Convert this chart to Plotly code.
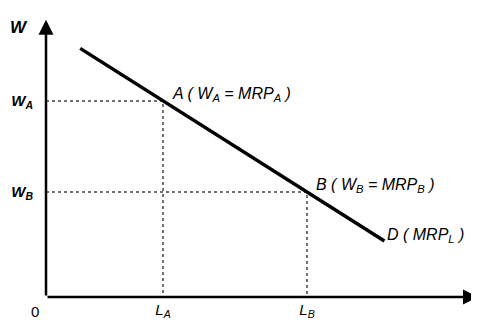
import plotly.graph_objects as go

# demand curve D (MRP_L)
demand_L = [0.95, 3.25, 7.25, 9.4]
demand_W = [8.88, 7.0, 3.75, 2.0]

# the two marked points
point_names = ["A", "B"]
point_L = [3.25, 7.25]
point_W = [7.0, 3.75]

tick_L = ["<i>L<sub>A</sub></i>", "<i>L<sub>B</sub></i>"]
tick_W = ["<b><i>W<sub>A</sub></i></b>", "<b><i>W<sub>B</sub></i></b>"]
point_text = [
    "<i>A ( W<sub>A</sub> = MRP<sub>A</sub> )</i>",
    "<i>B ( W<sub>B</sub> = MRP<sub>B</sub> )</i>",
]

fig = go.Figure()

# dotted guide lines from each point to the axes
for L, W in zip(point_L, point_W):
    fig.add_trace(go.Scatter(x=[0, L, L], y=[W, W, 0], mode="lines",
                             line=dict(color="#444", width=1.5, dash="dot"),
                             hoverinfo="skip"))

fig.add_trace(go.Scatter(x=[demand_L[0], demand_L[-1]], y=[demand_W[0], demand_W[-1]],
                         mode="lines", line=dict(color="black", width=3.5)))

font = dict(family="Liberation Sans, Arial", size=15, color="black")
label_font = dict(family="Liberation Sans, Arial", size=16, color="black")

# axes with arrowheads
fig.add_annotation(x=12, y=0, ax=0, ay=0, xref="x", yref="y", axref="x", ayref="y",
                   text="", showarrow=True, arrowhead=2, arrowsize=1.2,
                   arrowwidth=2.5, arrowcolor="black")
fig.add_annotation(x=0, y=9.9, ax=0, ay=0, xref="x", yref="y", axref="x", ayref="y",
                   text="", showarrow=True, arrowhead=2, arrowsize=1.2,
                   arrowwidth=2.5, arrowcolor="black")

for txt, L, W in zip(point_text, point_L, point_W):
    fig.add_annotation(x=L, y=W, text=txt, showarrow=False, xanchor="left",
                       yanchor="middle", xshift=7, yshift=7, font=label_font)

fig.add_annotation(x=demand_L[-1], y=demand_W[-1], text="<i>D ( MRP<sub>L</sub> )</i>",
                   showarrow=False, xanchor="left", yanchor="middle",
                   xshift=1, yshift=6, font=label_font)

fig.add_annotation(x=0, y=0, text="0", showarrow=False, xanchor="right",
                   yanchor="top", xshift=-5, yshift=-4, font=font)
fig.add_annotation(x=0, y=10, text="<b><i>W</i></b>", showarrow=False,
                   xanchor="right", yanchor="top", xshift=-16, yshift=1,
                   font=dict(family="Liberation Sans, Arial", size=17, color="black"))

# page body has an 8px margin, so the figure is a bit smaller than the window
fig.update_layout(
    width=471, height=314,
    margin=dict(l=38, r=1, t=9, b=25, autoexpand=False),
    plot_bgcolor="white", paper_bgcolor="white",
    showlegend=False,
    xaxis=dict(range=[0, 12], showgrid=False, zeroline=False, showline=False,
               tickvals=point_L, ticktext=tick_L, ticks="", tickfont=font,
               automargin=False, ticklabelstandoff=2),
    yaxis=dict(range=[0, 10], showgrid=False, zeroline=False, showline=False,
               tickvals=point_W, ticktext=tick_W, ticks="", tickfont=font,
               automargin=False, ticklabelstandoff=12),
)

fig.write_html("out.html")
